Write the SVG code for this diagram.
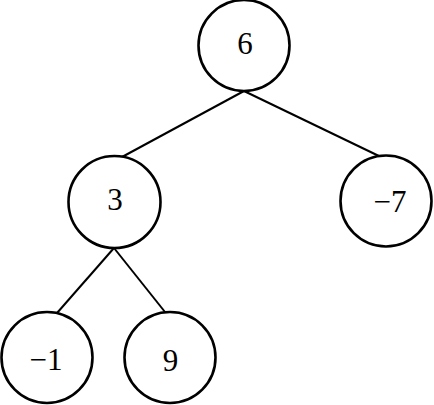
<svg xmlns="http://www.w3.org/2000/svg" width="434" height="405" viewBox="0 0 434 405">
<style>
.n{fill:#fff;stroke:#000;stroke-width:2.6}
.t{font-family:"Liberation Serif","Times New Roman",serif;font-size:31px;text-anchor:middle;fill:#000}
.e{stroke:#000;stroke-width:2;fill:none}
</style>
<rect width="434" height="405" fill="#fff"/>
<g id="connectors">
<line class="e" x1="244" y1="91" x2="122" y2="157"/>
<line class="e" x1="244" y1="91" x2="381" y2="157"/>
<line class="e" x1="114" y1="248" x2="57" y2="313"/>
<line class="e" x1="114" y1="248" x2="165" y2="312"/>
</g>
<g id="n6"><circle class="n" cx="244" cy="45.5" r="45.5"/><text class="t" x="245" y="54">6</text></g>
<g id="n3"><circle class="n" cx="114.5" cy="202" r="46"/><text class="t" x="115" y="210">3</text></g>
<g id="nm7"><circle class="n" cx="386" cy="201" r="45.5"/><text class="t" x="390" y="212">−7</text></g>
<g id="nm1"><circle class="n" cx="47" cy="357.5" r="45.5"/><text class="t" x="46" y="370">−1</text></g>
<g id="n9"><circle class="n" cx="170" cy="357.5" r="45.5"/><text class="t" x="170.5" y="371">9</text></g>
</svg>
